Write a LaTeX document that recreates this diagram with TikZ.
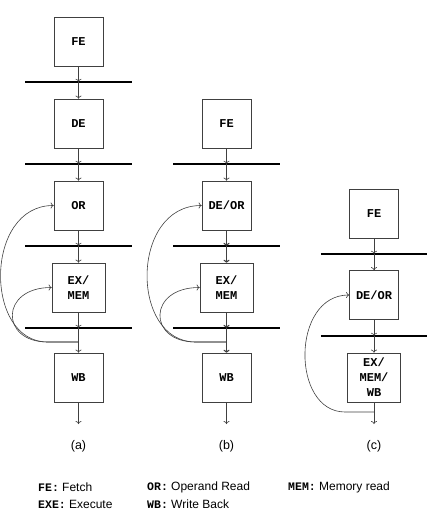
\documentclass[tikz,border=0pt]{standalone}
\usepackage{fontspec}
\setmainfont{Liberation Sans}
\setmonofont{Liberation Mono}
\usetikzlibrary{arrows.meta}
\newcommand\legkw[1]{{\ttfamily\bfseries\fontsize{11.5}{14}\selectfont #1}}
\begin{document}
\begin{tikzpicture}[x=1pt,y=-1pt,
 box/.style={draw=black!75, line width=0.7pt, fill=white, minimum width=49pt, minimum height=49pt, inner sep=0pt, align=center, font=\ttfamily\bfseries\fontsize{12}{15}\selectfont},
 wbox/.style={box, minimum width=53pt},
 bar/.style={minimum width=106pt, minimum height=0pt, inner sep=0pt},
 barline/.style={draw=black, line width=1.8pt},
 arr/.style={draw=black!75, line width=0.6pt, -{To[length=3pt,width=6pt]}},
 tarr/.style={arr, line width=1.1pt},
 lab/.style={font=\fontsize{12.5}{15}\selectfont},
 leg/.style={anchor=west, font=\fontsize{12}{14}\selectfont, inner sep=0pt}
]
\useasboundingbox (0,0) rectangle (426,513);

% ---------- (a)
\node[box] (afe) at (78.5,41.5) {FE};
\node[bar] (ab1) at (78.5,82) {};
\node[box] (ade) at (78.5,123.5) {DE};
\node[bar] (ab2) at (78.5,164) {};
\node[box] (aor) at (78.5,205.5) {OR};
\node[bar] (ab3) at (78.5,246) {};
\node[wbox] (aex) at (78.5,287.5) {EX/\\MEM};
\node[bar] (ab4) at (78.5,328) {};
\node[box] (awb) at (78.5,377.5) {WB};
\coordinate (aend) at (78.5,424);
\coordinate (aj) at (78.5,342);

\foreach \b in {ab1,ab2,ab3,ab4} \draw[barline] (\b.west) -- (\b.east);
\draw[arr] (afe) -- (ab1);
\draw[arr] (ab1) -- (ade);
\draw[arr] (ade) -- (ab2);
\draw[arr] (ab2) -- (aor);
\draw[arr] (aor) -- (ab3);
\draw[arr] (ab3) -- (aex);
\draw[arr] (aex) -- (ab4);
\draw[arr] (ab4) -- (awb);
\draw[arr] (awb) -- (aend);
\draw[arr] (aj) -- ++(-31,0) .. controls (-16,342) and (-16,205.5) .. (aor.west);
\draw[arr] (aj) -- ++(-31,0) .. controls (0,342) and (0,287.5) .. (aex.west);
\node[lab] (la) at (78.5,446) {(a)};

% ---------- (b)
\node[box] (bfe) at (226.5,123.5) {FE};
\node[bar] (bb1) at (226.5,164) {};
\node[box] (bdo) at (226.5,205.5) {DE/OR};
\node[bar] (bb2) at (226.5,246) {};
\node[wbox] (bex) at (226.5,287.5) {EX/\\MEM};
\node[bar] (bb3) at (226.5,328) {};
\node[box] (bwb) at (226.5,377.5) {WB};
\coordinate (bend) at (226.5,424);
\coordinate (bj) at (226.5,342);

\foreach \b in {bb1,bb2,bb3} \draw[barline] (\b.west) -- (\b.east);
\draw[arr] (bfe) -- (bb1);
\draw[arr] (bb1) -- (bdo);
\draw[tarr] (bdo) -- (bb2);
\draw[tarr] (bb2) -- (bex);
\draw[tarr] (bex) -- (bb3);
\draw[tarr] (bb3) -- (bwb);
\draw[arr] (bwb) -- (bend);
\draw[arr] (bj) -- ++(-31,0) .. controls (130,342) and (130,205.5) .. (bdo.west);
\draw[arr] (bj) -- ++(-31,0) .. controls (147.5,342) and (147.5,287.5) .. (bex.west);
\node[lab] (lb) at (226.5,446) {(b)};

% ---------- (c)
\node[box] (cfe) at (374,213.5) {FE};
\node[bar] (cb1) at (374,254) {};
\node[box] (cdo) at (374,295) {DE/OR};
\node[bar] (cb2) at (374,336) {};
\node[wbox] (cex) at (374,377.5) {EX/\\MEM/\\WB};
\coordinate (cend) at (374,424);
\coordinate (cj) at (374,412);

\foreach \b in {cb1,cb2} \draw[barline] (\b.west) -- (\b.east);
\draw[arr] (cfe) -- (cb1);
\draw[arr] (cb1) -- (cdo);
\draw[arr] (cdo) -- (cb2);
\draw[arr] (cb2) -- (cex);
\draw[arr] (cex) -- (cend);
\draw[arr] (cj) -- ++(-29,0) .. controls (291,412) and (291,295) .. (cdo.west);
\node[lab] (lc) at (374,446) {(c)};

% ---------- legend
\node[leg] (g1) at (38,487) {\legkw{FE:} Fetch};
\node[leg] (g2) at (38,504) {\legkw{EXE:} Execute};
\node[leg] (g3) at (147,487) {\legkw{OR:} Operand Read};
\node[leg] (g4) at (147,504) {\legkw{WB:} Write Back};
\node[leg] (g5) at (288,487) {\legkw{MEM:} Memory read};
\end{tikzpicture}
\end{document}
